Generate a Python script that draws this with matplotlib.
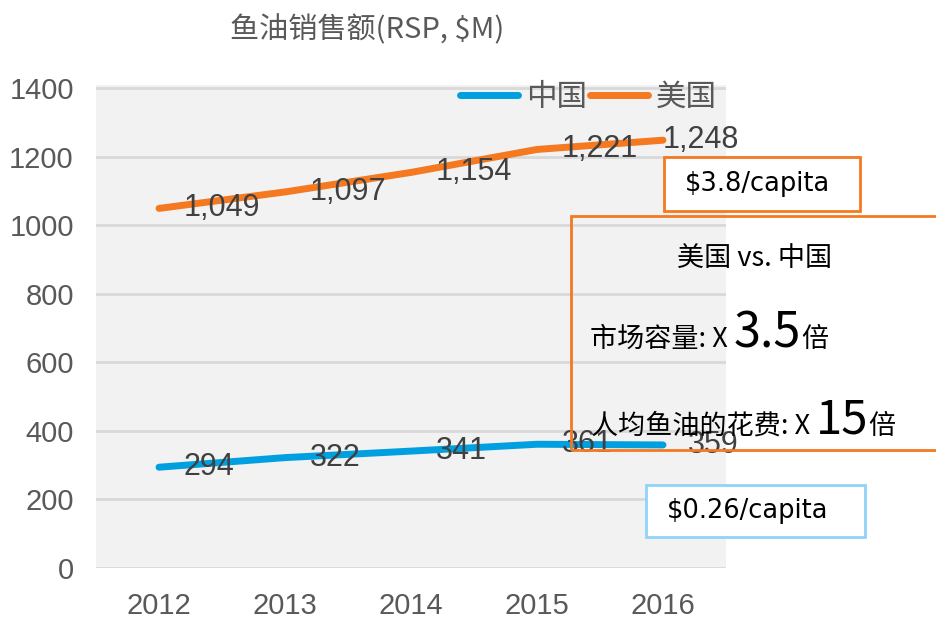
import matplotlib
matplotlib.use("Agg")
import matplotlib.pyplot as plt
from matplotlib.patches import Rectangle
from matplotlib.lines import Line2D

years = ["2012", "2013", "2014", "2015", "2016"]
china = [294, 322, 341, 361, 359]
usa = [1049, 1097, 1154, 1221, 1248]
series_names = ["中国", "美国"]
y_ticks = [0, 200, 400, 600, 800, 1000, 1200, 1400]

title_text = "鱼油销售额(RSP, $M)"
usa_capita = "$3.8/capita"
china_capita = "$0.26/capita"
cmp_title = "美国 vs. 中国"
cmp_market = ("市场容量: X ", "3.5", "倍")
cmp_spend = ("人均鱼油的花费: X ", "15", "倍")

BLUE = "#00a0e0"
ORANGE = "#f47920"
LIGHTBLUE = "#8fd3fb"
GRID = "#d9d9d9"
TICKC = "#595959"
LABELC = "#404040"

NUMFONT = ["Liberation Sans", "DejaVu Sans"]
CJK = ["Noto Sans CJK SC", "DejaVu Sans"]
plt.rcParams["font.family"] = CJK

W, H = 937, 622
fig = plt.figure(figsize=(W / 100, H / 100), dpi=100)
ax = fig.add_axes([96 / W, (H - 568) / H, 630 / W, (568 - 85) / H])
ax.set_facecolor("#f2f2f2")
for s in ax.spines.values():
    s.set_visible(False)

x = list(range(len(years)))
ax.plot(x, china, color=BLUE, lw=5, solid_capstyle="round", zorder=3)
ax.plot(x, usa, color=ORANGE, lw=5, solid_capstyle="round", zorder=3)

ax.set_xlim(-0.5, len(years) - 0.5)
ax.set_ylim(0, 1409)
ax.set_yticks(y_ticks)
ax.set_xticks(x)
ax.set_xticklabels(years)
ax.yaxis.grid(True, color=GRID, lw=2)
ax.set_axisbelow(True)
ax.tick_params(axis="both", length=0, labelcolor=TICKC, labelsize=21)
ax.tick_params(axis="y", pad=16)
ax.tick_params(axis="x", pad=17)
for lab in ax.get_xticklabels() + ax.get_yticklabels():
    lab.set_family(NUMFONT)

# data labels
for name, vals in (("china", china), ("usa", usa)):
    for i, v in enumerate(vals):
        dx = 0 if (name == "usa" and i == len(vals) - 1) else 25
        ax.annotate(f"{v:,}", (i, v), xytext=(dx, 0), textcoords="offset pixels",
                    ha="left", va="center", fontsize=22, color=LABELC,
                    family=NUMFONT, zorder=4)

# legend
handles = [Line2D([], [], color=BLUE, lw=5, solid_capstyle="round"),
           Line2D([], [], color=ORANGE, lw=5, solid_capstyle="round")]
leg = ax.legend(handles, series_names, loc="center left",
                bbox_to_anchor=(460 / W, 1 - 97 / H), bbox_transform=fig.transFigure,
                ncol=2, frameon=False, fontsize=22, handlelength=1.9,
                handletextpad=0.25, columnspacing=0.1, borderpad=0, borderaxespad=0)
for t in leg.get_texts():
    t.set_color(TICKC)

# title
fig.text(230 / W, 1 - 30 / H, title_text, fontsize=21, color=TICKC,
         ha="left", va="center", parse_math=False)

# boxes
fig.add_artist(Rectangle((664 / W, 1 - 211 / H), 196 / W, 54 / H,
                         transform=fig.transFigure, fc="white", ec=ORANGE, lw=2, zorder=5))
fig.text(685 / W, 1 - 184 / H, usa_capita, fontsize=18.5, family=["DejaVu Sans"],
         color="black", ha="left", va="center", zorder=6, parse_math=False)

fig.add_artist(Rectangle((646 / W, 1 - 537 / H), 219 / W, 52 / H,
                         transform=fig.transFigure, fc="white", ec=LIGHTBLUE, lw=2, zorder=5))
fig.text(667 / W, 1 - 511 / H, china_capita, fontsize=18.5, family=["DejaVu Sans"],
         color="black", ha="left", va="center", zorder=6, parse_math=False)

fig.add_artist(Rectangle((571 / W, 1 - 450 / H), 400 / W, 234 / H,
                         transform=fig.transFigure, fc="none", ec=ORANGE, lw=2, zorder=5))

fig.text(755 / W, 1 - 258 / H, cmp_title, fontsize=19.5, color="black",
         ha="center", va="center", zorder=6)


def chain(x0, base_y, parts, sizes):
    t = fig.text(x0 / W, 1 - base_y / H, parts[0], fontsize=sizes[0], color="black",
                 ha="left", va="baseline", zorder=6)
    prev = t
    for p, s in zip(parts[1:], sizes[1:]):
        prev = fig.add_artist(matplotlib.text.Annotation(
            p, xy=(1, 1 - base_y / H), xycoords=(prev, "figure fraction"),
            fontsize=s, color="black", ha="left", va="baseline", zorder=6))
    return t


chain(590, 347, cmp_market, (19.5, 35, 19.5))
chain(591, 434, cmp_spend, (19.5, 34, 19.5))

fig.savefig("out.png", dpi=100)
